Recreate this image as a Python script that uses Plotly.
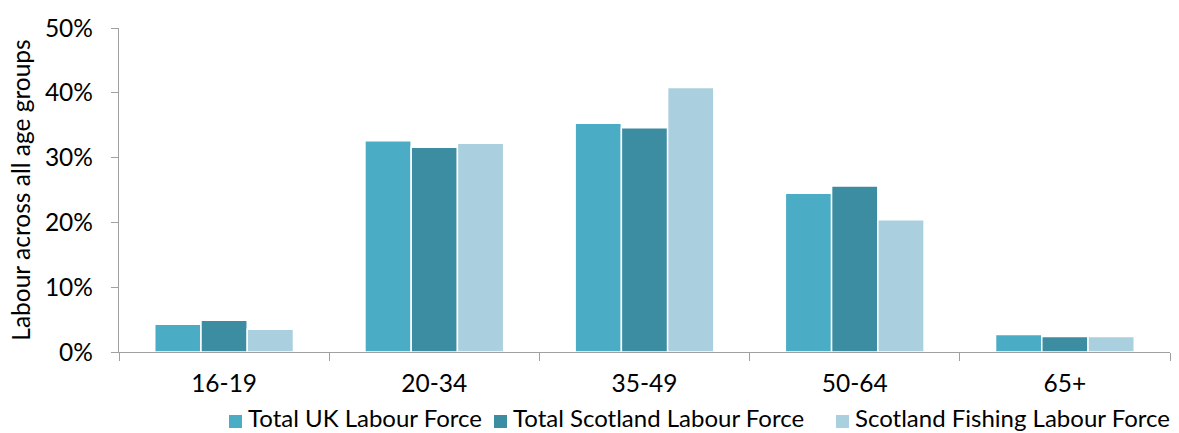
import plotly.graph_objects as go

age_groups = ["16-19", "20-34", "35-49", "50-64", "65+"]
uk_total = [4.3, 32.6, 35.3, 24.5, 2.7]
scotland_total = [4.9, 31.6, 34.6, 25.6, 2.4]
scotland_fishing = [3.5, 32.2, 40.8, 20.4, 2.4]

series_names = ["Total UK Labour Force", "Total Scotland Labour Force",
                "Scotland Fishing Labour Force"]
series_values = [uk_total, scotland_total, scotland_fishing]
series_colors = ["#4BACC6", "#3C8CA2", "#AACFDE"]

FONT = "Lato, 'Open Sans', sans-serif"
FS = 24.5
LEGEND_FS = 24
W, H = 1179, 433
ML, MR, MT, MB = 119, 9, 28, 81
PW, PH = W - ML - MR, H - MT - MB


def px_to_paper_x(px):
    return (px - ML) / PW


def px_to_paper_y(py):
    return (H - MB - py) / PH


fig = go.Figure()
for name, vals, color in zip(series_names, series_values, series_colors):
    fig.add_trace(go.Bar(
        x=age_groups, y=vals, name=name,
        marker=dict(color=color, line=dict(color="white", width=1.5)),
    ))

# legend drawn as swatches + labels along the bottom
legend_swatch_left = [229, 494, 836]
legend_text_left = [246, 511, 853]
shapes, annotations = [], []
for name, color, sx, tx in zip(series_names, series_colors,
                                legend_swatch_left, legend_text_left):
    shapes.append(dict(
        type="rect", xref="paper", yref="paper",
        x0=px_to_paper_x(sx), x1=px_to_paper_x(sx + 13),
        y0=px_to_paper_y(428), y1=px_to_paper_y(415),
        fillcolor=color, line=dict(width=0),
    ))
    annotations.append(dict(
        text=name, xref="paper", yref="paper",
        x=px_to_paper_x(tx), y=px_to_paper_y(417),
        xanchor="left", yanchor="middle", showarrow=False,
        font=dict(family=FONT, size=LEGEND_FS, color="#000000"),
    ))

fig.update_layout(
    width=W, height=H,
    margin=dict(l=ML, r=MR, t=MT, b=MB, autoexpand=False),
    plot_bgcolor="white", paper_bgcolor="white",
    barmode="group", bargap=0.34, bargroupgap=0.0,
    font=dict(family=FONT, size=FS, color="#000000"),
    showlegend=False,
    shapes=shapes, annotations=annotations,
)

fig.update_xaxes(
    showline=True, linecolor="#A0A0A0", linewidth=1.3,
    ticks="outside", tickson="boundaries", ticklen=8, tickcolor="#A0A0A0",
    showgrid=False, tickfont=dict(size=FS), ticklabelstandoff=9,
)
fig.update_yaxes(
    range=[0, 50], dtick=10, ticksuffix="%",
    showline=True, linecolor="#A0A0A0", linewidth=1.3,
    ticks="outside", ticklen=7, tickcolor="#A0A0A0",
    showgrid=False, zeroline=False, tickfont=dict(size=FS),
    ticklabelstandoff=13,
    title=dict(text="Labour across all age groups", font=dict(size=FS), standoff=7),
)

fig.write_html("out.html")
